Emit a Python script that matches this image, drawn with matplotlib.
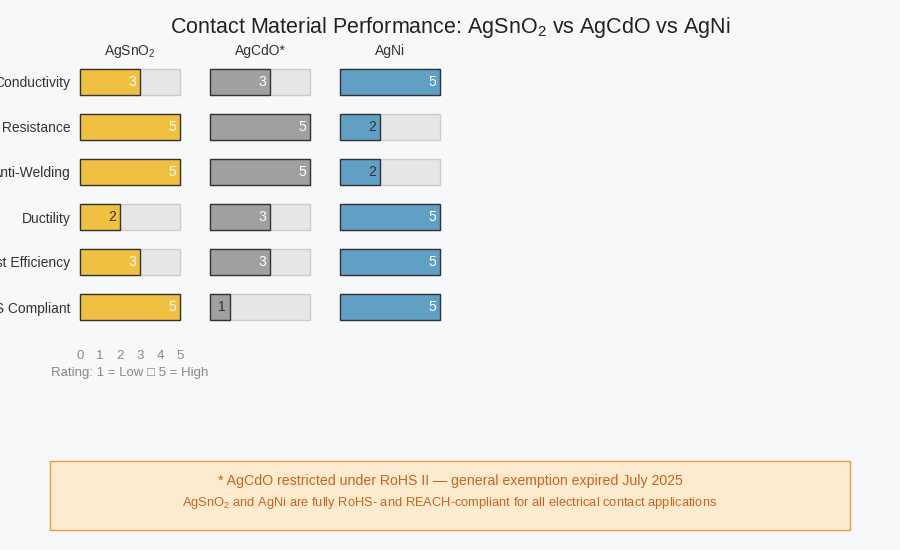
import matplotlib
matplotlib.use("Agg")
import matplotlib.pyplot as plt
from matplotlib.patches import Rectangle

plt.rcParams['font.family'] = ['Liberation Sans', 'DejaVu Sans']
plt.rcParams['mathtext.fontset'] = 'custom'
plt.rcParams['mathtext.rm'] = 'Liberation Sans'
plt.rcParams['mathtext.default'] = 'regular'

# data
criteria = ['Conductivity', 'Arc Resistance', 'Anti-Welding', 'Ductility',
            'Cost Efficiency', 'RoHS Compliant']
materials = ['AgSnO$_2$', 'AgCdO*', 'AgNi']
agsno2 = [3, 5, 5, 2, 3, 5]
agcdo = [3, 5, 5, 3, 3, 1]
agni = [5, 2, 2, 5, 5, 5]
scores = [agsno2, agcdo, agni]
colors = ['#f0c040', '#a0a0a0', '#5fa0c4']
max_score = 5

bg = '#f7f8fa'
W, H = 900, 550
fig = plt.figure(figsize=(9, 5.5), dpi=100, facecolor=bg)

fig.text(0.5, 1 - 28 / H, 'Contact Material Performance: AgSnO$_2$ vs AgCdO vs AgNi',
         ha='center', va='center', fontsize=15.5, color='#222222')

col_left = [80, 210, 340]
ax_top, ax_bot = 59.5, 329.5
ypos = list(range(len(criteria)))

for i, (name, vals, c) in enumerate(zip(materials, scores, colors)):
    ax = fig.add_axes([col_left[i] / W, 1 - ax_bot / H, 100 / W, (ax_bot - ax_top) / H])
    ax.set_facecolor(bg)
    ax.set_xlim(0, max_score)
    ax.set_ylim(len(criteria) - 0.5, -0.5)
    ax.barh(ypos, [max_score] * len(ypos), height=0.556, color='#e6e6e6',
            edgecolor='#cccccc', linewidth=1, clip_on=False)
    ax.barh(ypos, vals, height=0.556, color=c, edgecolor='#333333', linewidth=1,
            clip_on=False)
    for y, v in zip(ypos, vals):
        tc = 'white' if v >= 3 else '#333333'
        ax.text(v - 0.2, y, str(v), ha='right', va='center', fontsize=10, color=tc)
    for s in ax.spines.values():
        s.set_visible(False)
    ax.text(0.5, 1 + 8.5 / (ax_bot - ax_top), name, transform=ax.transAxes,
            ha='center', va='center', fontsize=10, color='#333333')
    if i == 0:
        ax.set_yticks(ypos)
        ax.set_yticklabels(criteria, fontsize=10, color='#333333')
        ax.tick_params(axis='y', length=0, pad=7)
        ax.set_xticks(range(max_score + 1))
        ax.tick_params(axis='x', length=0, pad=14.5, labelsize=9.5, labelcolor='#888888')
        ax.text(0.5, -43.5 / (ax_bot - ax_top), 'Rating: 1 = Low \u25a1 5 = High',
                transform=ax.transAxes, ha='center', va='center', fontsize=9.5,
                color='#888888')
    else:
        ax.set_yticks([])
        ax.set_xticks([])

# footnote box
fig.patches.append(Rectangle((50 / W, 1 - 530 / H), 800 / W, 69 / H,
                             transform=fig.transFigure, facecolor='#fdebd0',
                             edgecolor='#e0a040', linewidth=1))
fig.text(0.5, 1 - 481 / H, '* AgCdO restricted under RoHS II \u2014 general exemption expired July 2025',
         ha='center', va='center', fontsize=10.2, color='#c8641e')
fig.text(0.5, 1 - 503 / H, 'AgSnO$_2$ and AgNi are fully RoHS- and REACH-compliant for all electrical contact applications',
         ha='center', va='center', fontsize=9.3, color='#c8641e')

fig.savefig('out.png', dpi=100, facecolor=bg)
